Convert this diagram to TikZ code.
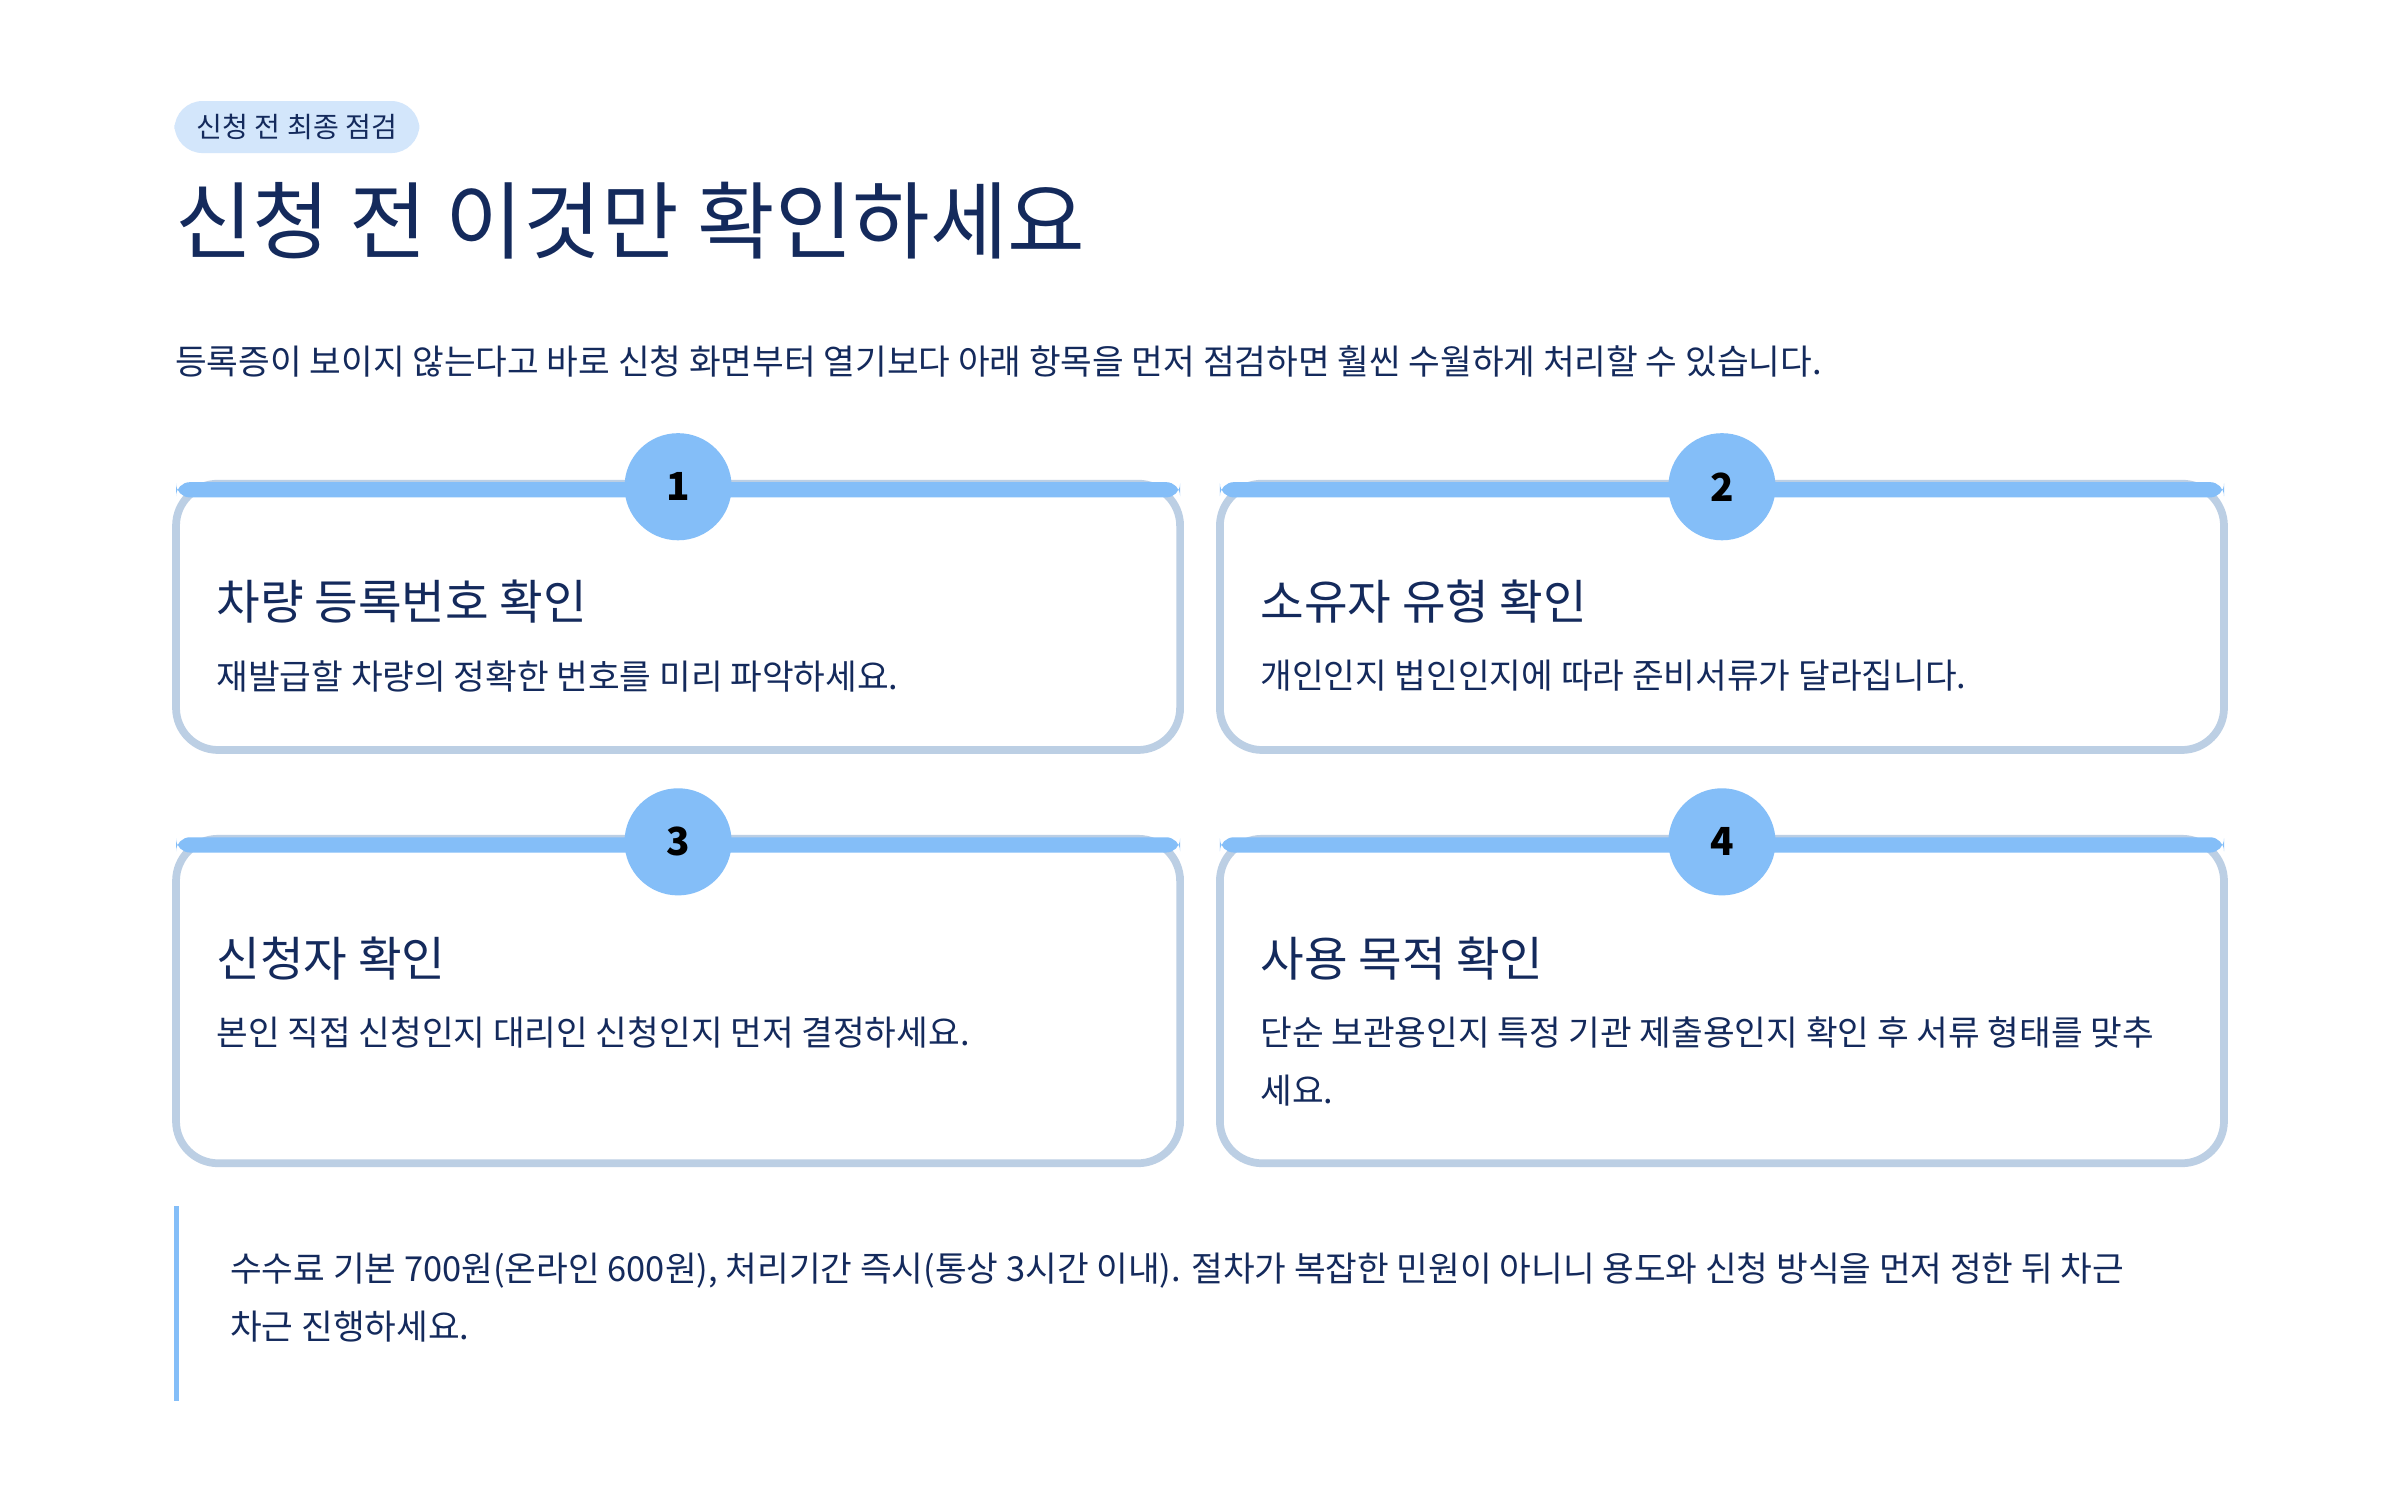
\documentclass[tikz,border=0pt]{standalone}
\usepackage{fontspec}
\setmainfont{Noto Sans CJK KR}
\usepackage{xcolor}
\definecolor{navy}{HTML}{142A5C}
\definecolor{badgebg}{HTML}{D3E6FB}
\definecolor{accent}{HTML}{84BEF8}
\definecolor{cardline}{HTML}{BCCFE4}
\tikzset{
  card/.style={draw=cardline, line width=2.2, rounded corners=12, fill=white},
  bar/.style={fill=accent, rounded corners=4},
  num/.style={circle, fill=accent, minimum size=70*0.0153cm, inner sep=0pt, font=\fontsize{11}{13}\selectfont\bfseries, text=black},
  ctitle/.style={anchor=west, inner sep=0pt, text=navy, font=\fontsize{13.5}{16}\selectfont},
  cdesc/.style={anchor=north west, inner sep=0pt, text=navy, font=\fontsize{9.8}{16.5}\selectfont, align=left}
}
\begin{document}
\begin{tikzpicture}[x=0.0153cm,y=-0.0153cm]
		\useasboundingbox[fill=white] (0,0) rectangle (1568,980);
		% header
		\fill[badgebg, rounded corners=8] (114,66) rectangle (274,100);
		\node[text=navy, font=\fontsize{8}{10}\selectfont] (badge) at (194,83) {신청 전 최종 점검};
		\node[anchor=west, inner sep=0pt, text=navy, font=\fontsize{24}{28}\selectfont] (title) at (114,144) {신청 전 이것만 확인하세요};
		\node[anchor=west, inner sep=0pt, text=navy, font=\fontsize{9.8}{12}\selectfont] (lead) at (114,236) {등록증이 보이지 않는다고 바로 신청 화면부터 열기보다 아래 항목을 먼저 점검하면 훨씬 수월하게 처리할 수 있습니다.};

		% cards
		\draw[card] (115,316) rectangle (771,490);
		\fill[bar] (115,315) rectangle (771,325);
		\node[num] (n1) at (443,318) {1};
		\node[ctitle] (t1) at (141,393) {차량 등록번호 확인};
		\node[cdesc] (d1) at (141,431) {재발급할 차량의 정확한 번호를 미리 파악하세요.};

		\draw[card] (797,316) rectangle (1453,490);
		\fill[bar] (797,315) rectangle (1453,325);
		\node[num] (n2) at (1125,318) {2};
		\node[ctitle] (t2) at (823,393) {소유자 유형 확인};
		\node[cdesc] (d2) at (823,431) {개인인지 법인인지에 따라 준비서류가 달라집니다.};

		\draw[card] (115,548) rectangle (771,760);
		\fill[bar] (115,547) rectangle (771,557);
		\node[num] (n3) at (443,550) {3};
		\node[ctitle] (t3) at (141,626) {신청자 확인};
		\node[cdesc] (d3) at (141,664) {본인 직접 신청인지 대리인 신청인지 먼저 결정하세요.};

		\draw[card] (797,548) rectangle (1453,760);
		\fill[bar] (797,547) rectangle (1453,557);
		\node[num] (n4) at (1125,550) {4};
		\node[ctitle] (t4) at (823,626) {사용 목적 확인};
		\node[cdesc] (d4) at (823,664) {단순 보관용인지 특정 기관 제출용인지 확인 후 서류 형태를 맞추\\세요.};

		% note
		\fill[accent] (114,788) rectangle (117,915);
		\node[cdesc] (note) at (150,818) {수수료 기본 700원(온라인 600원), 처리기간 즉시(통상 3시간 이내). 절차가 복잡한 민원이 아니니 용도와 신청 방식을 먼저 정한 뒤 차근\\차근 진행하세요.};
\end{tikzpicture}
\end{document}
